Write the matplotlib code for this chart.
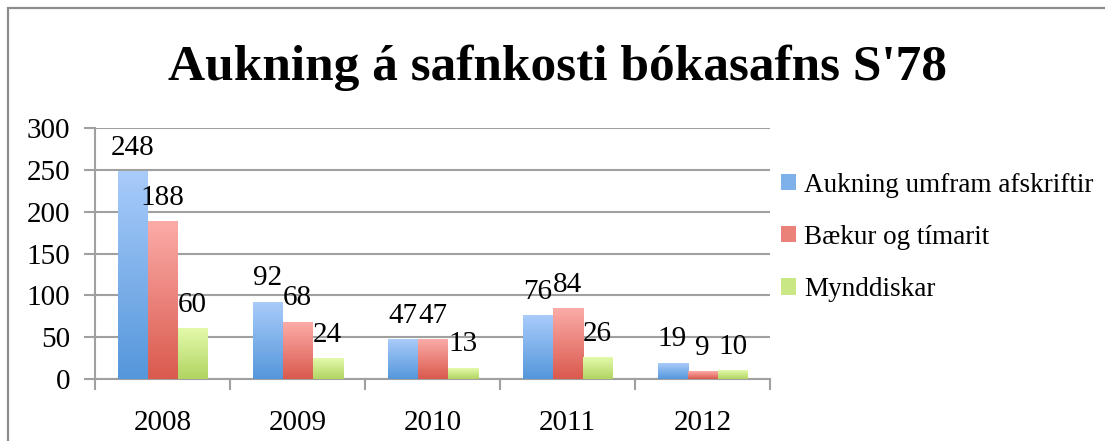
import matplotlib.pyplot as plt
import matplotlib.patches as mpatches
import matplotlib.colors as mcolors
import numpy as np

years = ['2008', '2009', '2010', '2011', '2012']
series_names = ['Aukning umfram afskriftir', 'Bækur og tímarit', 'Mynddiskar']
aukning = [248, 92, 47, 76, 19]
baekur = [188, 68, 47, 84, 9]
mynddiskar = [60, 24, 13, 26, 10]

# top / bottom colours of each gradient
grad_colors = [('#A8CBFA', '#5597DB'),
               ('#FBABA7', '#DA5A4E'),
               ('#E3FAAB', '#B2D462')]

plt.rcParams['font.family'] = ['Liberation Serif', 'DejaVu Serif']

fig = plt.figure(figsize=(11.05, 4.41), dpi=100)
ax = fig.add_axes([95 / 1105, 1 - 379 / 441, 675 / 1105, 251 / 441])

# chart border (only top + left visible in the crop)
fig.patches.append(mpatches.Rectangle((8 / 1105, -0.1), 1.2, 1 - 8 / 441 + 0.1,
                                      transform=fig.transFigure, fill=False,
                                      edgecolor='#8C8C8C', linewidth=1.6))

x = np.arange(len(years))
width = 1 / 4.5
data = [aukning, baekur, mynddiskar]


def gradient_bar(ax, x0, w, h, ctop, cbot):
    cmap = mcolors.LinearSegmentedColormap.from_list('g', [cbot, ctop])
    grad = np.linspace(0, 1, 64).reshape(-1, 1)
    ax.imshow(grad, extent=[x0, x0 + w, 0, h], origin='lower', aspect='auto',
              cmap=cmap, zorder=3, interpolation='bilinear')


for i, vals in enumerate(data):
    offs = (i - 1) * width
    for xi, v in zip(x, vals):
        gradient_bar(ax, xi + offs - width / 2, width, v, *grad_colors[i])
        ax.annotate(str(v), (xi + offs, v), xytext=(0, 12), textcoords='offset points',
                    ha='center', va='baseline', fontsize=21, zorder=5)

ax.set_xlim(-0.5, len(years) - 0.5)
ax.set_ylim(0, 300)
ax.set_yticks(np.arange(0, 301, 50))
ax.yaxis.grid(True, color='#A0A0A0', linewidth=1.5, zorder=0)
ax.set_axisbelow(True)

ax.set_xticks(np.arange(0, len(years) + 1) - 0.5)
ax.set_xticklabels([])
ax.set_xticks(x, minor=True)
ax.set_xticklabels(years, minor=True)
ax.tick_params(axis='x', which='minor', length=0, pad=22, labelsize=21)
ax.tick_params(axis='x', which='major', length=8, width=1.5, color='#A0A0A0')
ax.tick_params(axis='y', length=8, width=1.5, color='#A0A0A0', labelsize=21, pad=10)

for s in ['top', 'right']:
    ax.spines[s].set_visible(False)
for s in ['left', 'bottom']:
    ax.spines[s].set_color('#A0A0A0')
    ax.spines[s].set_linewidth(1.5)

fig.text(558 / 1105, 1 - 80 / 441, "Aukning á safnkosti bókasafns S'78",
         ha='center', va='baseline', fontsize=37, fontweight='bold')

handles = [mpatches.Patch(facecolor=mcolors.to_hex(
    np.mean([mcolors.to_rgb(c) for c in cs], axis=0)), edgecolor='none')
    for cs in grad_colors]
fig.legend(handles, series_names, loc='upper left',
           bbox_to_anchor=(770 / 1105, 1 - 162 / 441), frameon=False,
           fontsize=19.5, handlelength=0.55, handleheight=0.55, handletextpad=0.3,
           labelspacing=1.0, borderaxespad=0)

fig.savefig('out.png', dpi=100)
